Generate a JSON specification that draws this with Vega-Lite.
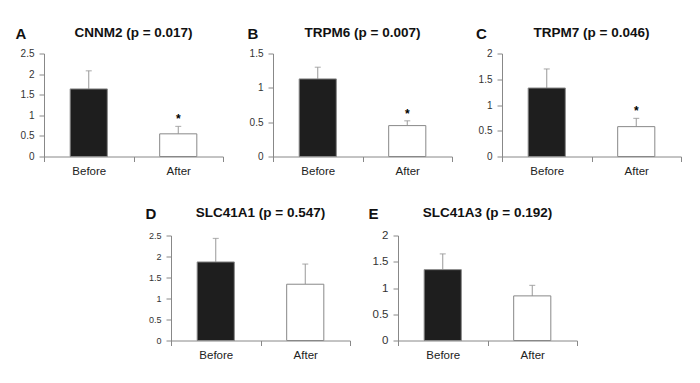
{
  "$schema": "https://vega.github.io/schema/vega-lite/v6.json",
  "padding": {"left": 15, "top": 25.5, "right": 0, "bottom": 0},
  "background": "white",
  "datasets": {
    "expr": [
      {"panel": "A", "cond": "Before", "value": 1.64, "upper": 2.08, "sig": ""},
      {"panel": "A", "cond": "After", "value": 0.55, "upper": 0.73, "sig": "*"},
      {"panel": "B", "cond": "Before", "value": 1.13, "upper": 1.30, "sig": ""},
      {"panel": "B", "cond": "After", "value": 0.45, "upper": 0.52, "sig": "*"},
      {"panel": "C", "cond": "Before", "value": 1.33, "upper": 1.70, "sig": ""},
      {"panel": "C", "cond": "After", "value": 0.58, "upper": 0.74, "sig": "*"},
      {"panel": "D", "cond": "Before", "value": 1.87, "upper": 2.43, "sig": ""},
      {"panel": "D", "cond": "After", "value": 1.34, "upper": 1.82, "sig": ""},
      {"panel": "E", "cond": "Before", "value": 1.35, "upper": 1.65, "sig": ""},
      {"panel": "E", "cond": "After", "value": 0.85, "upper": 1.05, "sig": ""}
    ]
  },
  "spacing": 28,
  "vconcat": [
    {
      "bounds": "flush",
      "spacing": 50,
      "hconcat": [
        {
          "width": 179, "height": 103,
          "data": {"name": "expr"},
          "transform": [{"filter": "datum.panel == 'A'"}],
          "title": {"text": "CNNM2 (p = 0.017)"},
          "encoding": {
            "x": {"field": "cond", "type": "nominal", "sort": ["Before", "After"], "scale": {"paddingInner": 0, "paddingOuter": 0}, "axis": {"title": null}},
            "y": {"field": "value", "type": "quantitative", "scale": {"domain": [0, 2.5]}, "axis": {"values": [0, 0.5, 1, 1.5, 2, 2.5], "title": "A", "titleX": -29, "titleY": -15}}
          },
          "layer": [
            {"mark": {"type": "rule", "color": "#999"}, "encoding": {"y2": {"field": "upper"}}},
            {"mark": {"type": "tick", "size": 6, "thickness": 1.2, "color": "#999"}, "encoding": {"y": {"field": "upper", "type": "quantitative", "axis": {"values": [0, 0.5, 1, 1.5, 2, 2.5], "title": "A", "titleX": -29, "titleY": -15}}}},
            {"mark": {"type": "bar", "width": {"band": 0.415}, "stroke": "#888", "strokeWidth": 1}, "encoding": {"fill": {"field": "cond", "type": "nominal", "scale": {"domain": ["Before", "After"], "range": ["#1e1e1e", "#ffffff"]}, "legend": null}}},
            {"mark": {"type": "text", "fontWeight": "bold", "fontSize": 12, "baseline": "alphabetic", "dy": -3}, "encoding": {"y": {"field": "upper", "type": "quantitative", "axis": {"values": [0, 0.5, 1, 1.5, 2, 2.5], "title": "A", "titleX": -29, "titleY": -15}}, "text": {"field": "sig"}}}
          ]
        },
        {
          "width": 179, "height": 103,
          "data": {"name": "expr"},
          "transform": [{"filter": "datum.panel == 'B'"}],
          "title": {"text": "TRPM6 (p = 0.007)"},
          "encoding": {
            "x": {"field": "cond", "type": "nominal", "sort": ["Before", "After"], "scale": {"paddingInner": 0, "paddingOuter": 0}, "axis": {"title": null}},
            "y": {"field": "value", "type": "quantitative", "scale": {"domain": [0, 1.5]}, "axis": {"values": [0, 0.5, 1, 1.5], "title": "B", "titleX": -26, "titleY": -15}}
          },
          "layer": [
            {"mark": {"type": "rule", "color": "#999"}, "encoding": {"y2": {"field": "upper"}}},
            {"mark": {"type": "tick", "size": 6, "thickness": 1.2, "color": "#999"}, "encoding": {"y": {"field": "upper", "type": "quantitative", "axis": {"values": [0, 0.5, 1, 1.5], "title": "B", "titleX": -26, "titleY": -15}}}},
            {"mark": {"type": "bar", "width": {"band": 0.415}, "stroke": "#888", "strokeWidth": 1}, "encoding": {"fill": {"field": "cond", "type": "nominal", "scale": {"domain": ["Before", "After"], "range": ["#1e1e1e", "#ffffff"]}, "legend": null}}},
            {"mark": {"type": "text", "fontWeight": "bold", "fontSize": 12, "baseline": "alphabetic", "dy": -3}, "encoding": {"y": {"field": "upper", "type": "quantitative", "axis": {"values": [0, 0.5, 1, 1.5], "title": "B", "titleX": -26, "titleY": -15}}, "text": {"field": "sig"}}}
          ]
        },
        {
          "width": 179, "height": 103,
          "data": {"name": "expr"},
          "transform": [{"filter": "datum.panel == 'C'"}],
          "title": {"text": "TRPM7 (p = 0.046)"},
          "encoding": {
            "x": {"field": "cond", "type": "nominal", "sort": ["Before", "After"], "scale": {"paddingInner": 0, "paddingOuter": 0}, "axis": {"title": null}},
            "y": {"field": "value", "type": "quantitative", "scale": {"domain": [0, 2]}, "axis": {"values": [0, 0.5, 1, 1.5, 2], "title": "C", "titleX": -26.5, "titleY": -15}}
          },
          "layer": [
            {"mark": {"type": "rule", "color": "#999"}, "encoding": {"y2": {"field": "upper"}}},
            {"mark": {"type": "tick", "size": 6, "thickness": 1.2, "color": "#999"}, "encoding": {"y": {"field": "upper", "type": "quantitative", "axis": {"values": [0, 0.5, 1, 1.5, 2], "title": "C", "titleX": -26.5, "titleY": -15}}}},
            {"mark": {"type": "bar", "width": {"band": 0.415}, "stroke": "#888", "strokeWidth": 1}, "encoding": {"fill": {"field": "cond", "type": "nominal", "scale": {"domain": ["Before", "After"], "range": ["#1e1e1e", "#ffffff"]}, "legend": null}}},
            {"mark": {"type": "text", "fontWeight": "bold", "fontSize": 12, "baseline": "alphabetic", "dy": -3}, "encoding": {"y": {"field": "upper", "type": "quantitative", "axis": {"values": [0, 0.5, 1, 1.5, 2], "title": "C", "titleX": -26.5, "titleY": -15}}, "text": {"field": "sig"}}}
          ]
        }
      ]
    },
    {
      "bounds": "flush",
      "spacing": 48,
      "hconcat": [
        {"width": 79, "height": 105, "data": {"values": []}, "mark": {"type": "point", "opacity": 0}},
        {
          "width": 179, "height": 105,
          "data": {"name": "expr"},
          "transform": [{"filter": "datum.panel == 'D'"}],
          "title": {"text": "SLC41A1 (p = 0.547)"},
          "encoding": {
            "x": {"field": "cond", "type": "nominal", "sort": ["Before", "After"], "scale": {"paddingInner": 0, "paddingOuter": 0}, "axis": {"title": null}},
            "y": {"field": "value", "type": "quantitative", "scale": {"domain": [0, 2.5]}, "axis": {"values": [0, 0.5, 1, 1.5, 2, 2.5], "labelFontSize": 9, "title": "D", "titleX": -26, "titleY": -17}}
          },
          "layer": [
            {"mark": {"type": "rule", "color": "#999"}, "encoding": {"y2": {"field": "upper"}}},
            {"mark": {"type": "tick", "size": 6, "thickness": 1.2, "color": "#999"}, "encoding": {"y": {"field": "upper", "type": "quantitative", "axis": {"values": [0, 0.5, 1, 1.5, 2, 2.5], "labelFontSize": 9, "title": "D", "titleX": -26, "titleY": -17}}}},
            {"mark": {"type": "bar", "width": {"band": 0.415}, "stroke": "#888", "strokeWidth": 1}, "encoding": {"fill": {"field": "cond", "type": "nominal", "scale": {"domain": ["Before", "After"], "range": ["#1e1e1e", "#ffffff"]}, "legend": null}}}
          ]
        },
        {
          "width": 179, "height": 105,
          "data": {"name": "expr"},
          "transform": [{"filter": "datum.panel == 'E'"}],
          "title": {"text": "SLC41A3 (p = 0.192)"},
          "encoding": {
            "x": {"field": "cond", "type": "nominal", "sort": ["Before", "After"], "scale": {"paddingInner": 0, "paddingOuter": 0}, "axis": {"title": null}},
            "y": {"field": "value", "type": "quantitative", "scale": {"domain": [0, 2]}, "axis": {"values": [0, 0.5, 1, 1.5, 2], "labelFontSize": 11.5, "title": "E", "titleX": -30, "titleY": -17}}
          },
          "layer": [
            {"mark": {"type": "rule", "color": "#999"}, "encoding": {"y2": {"field": "upper"}}},
            {"mark": {"type": "tick", "size": 6, "thickness": 1.2, "color": "#999"}, "encoding": {"y": {"field": "upper", "type": "quantitative", "axis": {"values": [0, 0.5, 1, 1.5, 2], "labelFontSize": 11.5, "title": "E", "titleX": -30, "titleY": -17}}}},
            {"mark": {"type": "bar", "width": {"band": 0.415}, "stroke": "#888", "strokeWidth": 1}, "encoding": {"fill": {"field": "cond", "type": "nominal", "scale": {"domain": ["Before", "After"], "range": ["#1e1e1e", "#ffffff"]}, "legend": null}}}
          ]
        }
      ]
    }
  ],
  "config": {
    "font": "Liberation Sans",
    "view": {"stroke": null},
    "title": {"font": "Liberation Sans", "fontSize": 13.5, "fontWeight": "bold", "color": "#111", "anchor": "middle", "frame": "group", "baseline": "alphabetic", "offset": -13},
    "axis": {"grid": false, "domainColor": "#888", "tickColor": "#888", "tickSize": 5, "labelColor": "#333", "labelFont": "Liberation Sans", "titleFont": "Liberation Sans", "titleFontSize": 15, "titleFontWeight": "bold", "titleColor": "#111", "labelOverlap": false},
    "axisX": {"labelFontSize": 11.5, "labelAngle": 0, "labelPadding": 4, "tickBand": "extent", "labelColor": "#222"},
    "axisY": {"labelFontSize": 10, "labelPadding": 5, "format": "~g", "titleAngle": 0, "titleAlign": "left", "titleBaseline": "alphabetic", "labelOverlap": false}
  }
}
